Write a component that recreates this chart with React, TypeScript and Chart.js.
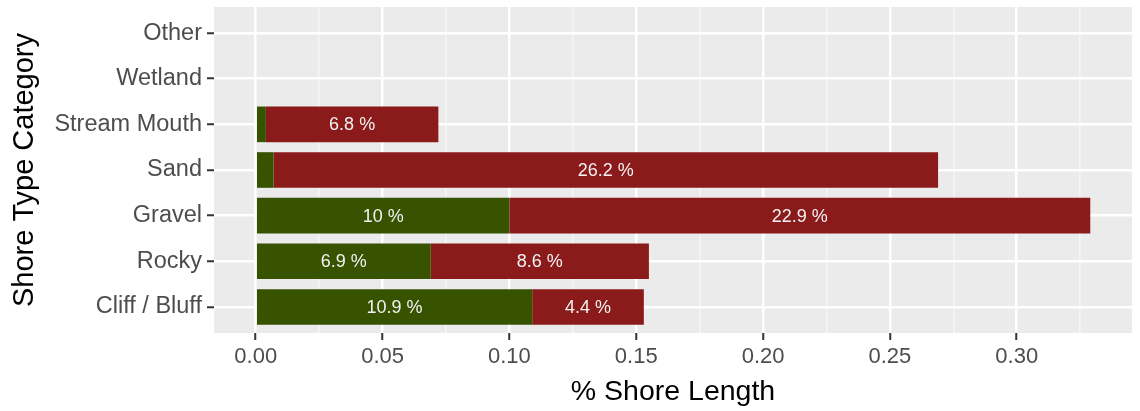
import React, { useEffect, useRef } from 'react';
import { Chart, registerables } from 'chart.js';

Chart.register(...registerables);

// Data (bottom-to-top order of the y axis)
const categories = ['Cliff / Bluff', 'Rocky', 'Gravel', 'Sand', 'Stream Mouth', 'Wetland', 'Other'];
const greenValues = [0.109, 0.069, 0.1, 0.007, 0.004, 0, 0];
const redValues = [0.044, 0.086, 0.229, 0.262, 0.068, 0, 0];
const xMajorTicks = [0, 0.05, 0.1, 0.15, 0.2, 0.25, 0.3];
const xMinorTicks = [0.025, 0.075, 0.125, 0.175, 0.225, 0.275, 0.325];

const GREEN = '#375300';
const RED = '#8B1A1A';
const FONT = '"Liberation Sans", Arial, Helvetica, sans-serif';

const totals = categories.map((_, i) => greenValues[i] + redValues[i]);
const maxTotal = Math.max(...totals);
const xMin = -0.05 * maxTotal;
const xMax = maxTotal * 1.05;

const fmtPct = (v: number) => `${Number((v * 100).toFixed(1))} %`;

const isMajor = (v: number) => xMajorTicks.some((t) => Math.abs(t - v) < 1e-9);

const bgPlugin = {
  id: 'panelBg',
  beforeDraw(chart: any) {
    const { ctx, chartArea: a } = chart;
    ctx.save();
    ctx.fillStyle = '#EBEBEB';
    ctx.fillRect(a.left, a.top, a.right - a.left, a.bottom - a.top);
    ctx.restore();
  },
};

const labelPlugin = {
  id: 'barLabels',
  afterDatasetsDraw(chart: any) {
    const { ctx } = chart;
    ctx.save();
    ctx.font = `18px ${FONT}`;
    ctx.fillStyle = '#F2F2F2';
    ctx.textAlign = 'center';
    ctx.textBaseline = 'middle';
    chart.data.datasets.forEach((ds: any, di: number) => {
      const meta = chart.getDatasetMeta(di);
      meta.data.forEach((el: any, i: number) => {
        const v = ds.data[i].x;
        if (v < 0.01) return;
        const cx = (el.x + el.base) / 2;
        ctx.fillText(fmtPct(v), cx, el.y + 1);
      });
    });
    ctx.restore();
  },
};

const titlePlugin = {
  id: 'axisTitles',
  afterDraw(chart: any) {
    const { ctx, chartArea: a } = chart;
    ctx.save();
    ctx.fillStyle = '#000000';
    ctx.font = `28.5px ${FONT}`;
    ctx.textAlign = 'center';
    ctx.textBaseline = 'alphabetic';
    ctx.fillText('% Shore Length', (a.left + a.right) / 2, 400);
    ctx.font = `29px ${FONT}`;
    ctx.translate(33, (a.top + a.bottom) / 2);
    ctx.rotate(-Math.PI / 2);
    ctx.fillText('Shore Type Category', 0, 0);
    ctx.restore();
  },
};

export default function App() {
  const ref = useRef<HTMLCanvasElement>(null);

  useEffect(() => {
    document.body.style.margin = '0';
    const canvas = ref.current!;
    const chart = new Chart(canvas, {
      type: 'bar',
      data: {
        datasets: [
          {
            label: 'green',
            data: greenValues.map((v, i) => ({ x: v, y: i })),
            backgroundColor: GREEN,
            borderWidth: 0,
            categoryPercentage: 0.78,
            barPercentage: 1,
          },
          {
            label: 'red',
            data: redValues.map((v, i) => ({ x: v, y: i })),
            backgroundColor: RED,
            borderWidth: 0,
            categoryPercentage: 0.78,
            barPercentage: 1,
          },
        ],
      },
      options: {
        indexAxis: 'y',
        responsive: false,
        animation: false,
        layout: { padding: { left: 0, right: 8, top: 7, bottom: 0 } },
        plugins: { legend: { display: false }, tooltip: { enabled: false } },
        scales: {
          x: {
            type: 'linear',
            stacked: true,
            min: xMin,
            max: xMax,
            offset: false,
            afterBuildTicks(scale: any) {
              scale.ticks = [...xMajorTicks, ...xMinorTicks]
                .sort((a, b) => a - b)
                .map((v) => ({ value: v }));
            },
            afterFit(scale: any) {
              scale.height = 78;
              scale.paddingLeft = 0;
              scale.paddingRight = 0;
            },
            border: { display: false },
            grid: {
              offset: false,
              color: (c: any) => (c.tick && isMajor(c.tick.value) ? '#FFFFFF' : '#F6F6F6'),
              lineWidth: (c: any) => (c.tick && isMajor(c.tick.value) ? 2.5 : 1.5),
              tickLength: 7,
              tickColor: (c: any) => (c.tick && isMajor(c.tick.value) ? '#333333' : 'rgba(0,0,0,0)'),
              tickWidth: 2,
            },
            ticks: {
              autoSkip: false,
              maxRotation: 0,
              padding: 4,
              color: '#4D4D4D',
              font: { family: FONT, size: 22 },
              callback: (v: any) => (isMajor(Number(v)) ? Number(v).toFixed(2) : ''),
            },
          },
          y: {
            type: 'linear',
            stacked: true,
            offset: false,
            min: -0.57,
            max: categories.length - 1 + 0.57,
            afterBuildTicks(scale: any) {
              scale.ticks = categories.map((_, i) => ({ value: i }));
            },
            afterFit(scale: any) {
              scale.width = 214;
              scale.paddingTop = 0;
              scale.paddingBottom = 0;
            },
            border: { display: false },
            grid: {
              offset: false,
              color: '#FFFFFF',
              lineWidth: 2.5,
              tickLength: 7,
              tickColor: '#333333',
              tickWidth: 2,
            },
            ticks: {
              autoSkip: false,
              padding: 5,
              color: '#4D4D4D',
              font: { family: FONT, size: 23.5 },
              callback: (v: any) => categories[Number(v)] ?? '',
            },
          },
        },
      },
      plugins: [bgPlugin, labelPlugin, titlePlugin],
    } as any);
    return () => chart.destroy();
  }, []);

  return (
    <div style={{ width: 1140, height: 411, background: '#FFFFFF' }}>
      <canvas ref={ref} width={1140} height={411} style={{ display: 'block' }} />
    </div>
  );
}
